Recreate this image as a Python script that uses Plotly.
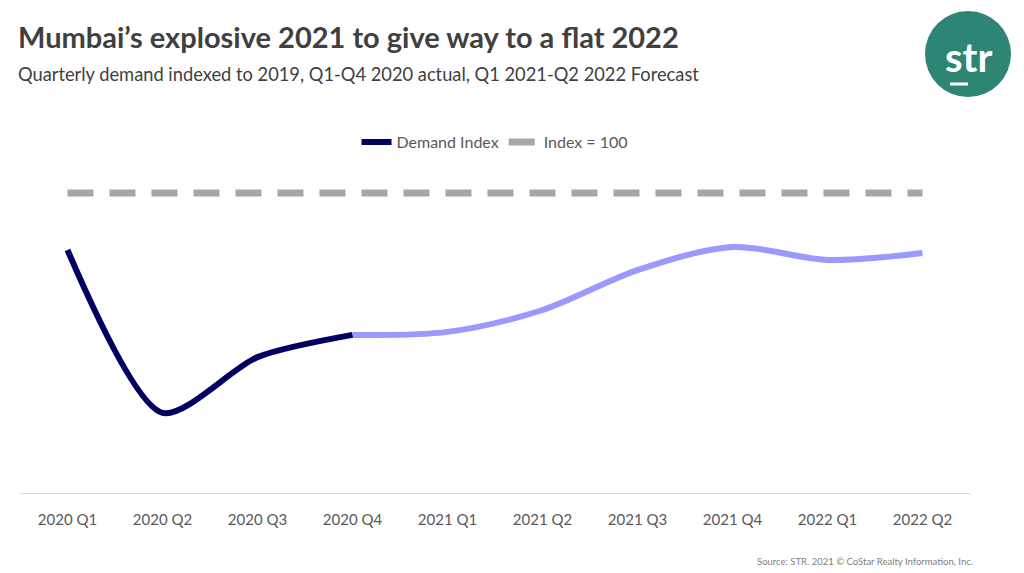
import plotly.graph_objects as go

quarters = ["2020 Q1", "2020 Q2", "2020 Q3", "2020 Q4", "2021 Q1",
            "2021 Q2", "2021 Q3", "2021 Q4", "2022 Q1", "2022 Q2"]
demand_index = [81, 26.7, 45.3, 52.7, 53.7, 61, 74.3, 82, 77.7, 80]
n_actual = 4  # 2020 Q1-Q4 actual, remainder forecast
index_100 = [100] * len(quarters)

FONT = "Lato"
fig = go.Figure()

fig.add_trace(go.Scatter(
    x=quarters, y=index_100, mode="lines", name="Index = 100",
    line=dict(color="#a6a6a6", width=7, dash="26px,16px"),
    hoverinfo="skip"))
fig.add_trace(go.Scatter(
    x=quarters[n_actual - 1:], y=demand_index[n_actual - 1:], mode="lines",
    name="Forecast", showlegend=False,
    line=dict(color="#9999ff", width=6, shape="spline", smoothing=0.9)))
fig.add_trace(go.Scatter(
    x=quarters[:n_actual], y=demand_index[:n_actual], mode="lines",
    name="Demand Index",
    line=dict(color="#000060", width=6, shape="spline", smoothing=0.75)))

fig.update_layout(
    width=1024, height=573,
    margin=dict(l=20, r=54, t=178, b=80),
    paper_bgcolor="white", plot_bgcolor="white",
    font=dict(family=FONT, color="#595959", size=15),
    showlegend=True,
    legend=dict(orientation="h", x=0.5, xanchor="center", y=(493 - 142) / 315,
                yanchor="middle",
                font=dict(size=16, color="#595959"), traceorder="reversed",
                itemwidth=30),
    xaxis=dict(type="category", range=[-0.5, 9.5], showgrid=False,
               showline=True, linecolor="#d9d9d9", linewidth=1,
               ticks="outside", ticklen=13, tickcolor="rgba(0,0,0,0)",
               tickfont=dict(size=15, color="#595959", family=FONT)),
    yaxis=dict(range=[0, 105], showgrid=False, showticklabels=False,
               zeroline=False, showline=False, ticks=""),
)

fig.add_annotation(xref="paper", yref="paper", x=(16 - 20) / 950, y=(493 - 36) / 315,
                   xanchor="left", yanchor="middle", showarrow=False,
                   text="<b>Mumbai’s explosive 2021 to give way to a flat 2022</b>",
                   font=dict(family=FONT, size=29, color="#404040"))
fig.add_annotation(xref="paper", yref="paper", x=(16 - 20) / 950, y=(493 - 74) / 315,
                   xanchor="left", yanchor="middle", showarrow=False,
                   text="Quarterly demand indexed to 2019, Q1-Q4 2020 actual, Q1 2021-Q2 2022 Forecast",
                   font=dict(family=FONT, size=18.3, color="#404040"))
fig.add_annotation(xref="paper", yref="paper", x=(975 - 20) / 950, y=(493 - 561) / 315,
                   xanchor="right", yanchor="middle", showarrow=False,
                   text="Source: STR. 2021 © CoStar Realty Information, Inc.",
                   font=dict(family=FONT, size=9.5, color="#7f7f7f"))

# logo
cx, cy, r = 968, 54, 43
fig.add_shape(type="circle", xref="paper", yref="paper",
              x0=(cx - r - 20) / 950, x1=(cx + r - 20) / 950,
              y0=(493 - cy - r) / 315, y1=(493 - cy + r) / 315,
              fillcolor="#2e8573", line=dict(width=0))
fig.add_annotation(xref="paper", yref="paper", x=(cx - 20) / 950, y=(493 - 57) / 315,
                   xanchor="center", yanchor="middle", showarrow=False,
                   text="<b>str</b>", font=dict(family=FONT, size=40, color="white"))
fig.add_shape(type="line", xref="paper", yref="paper",
              x0=(950 - 20) / 950, x1=(968 - 20) / 950,
              y0=(493 - 84) / 315, y1=(493 - 84) / 315,
              line=dict(color="white", width=3))

fig.write_html("out.html", config={"displayModeBar": False},
               post_script="document.body.style.margin='0';")
